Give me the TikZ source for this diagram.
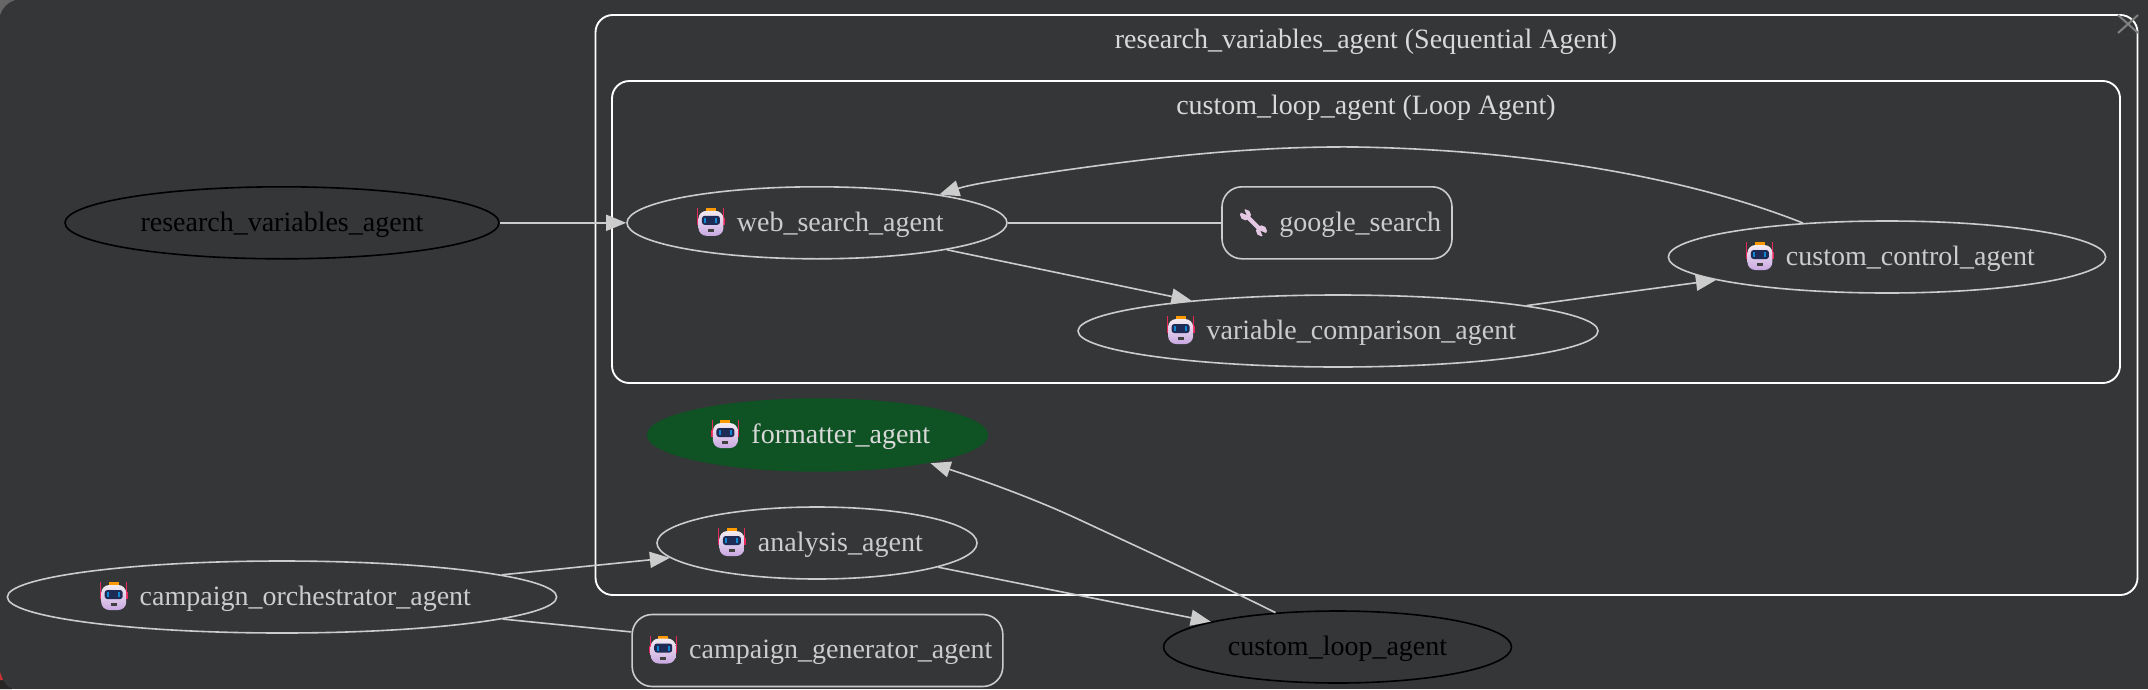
\documentclass[tikz,border=0pt]{standalone}
\usepackage{fontspec}
\setmainfont{Liberation Serif}
\usetikzlibrary{arrows.meta,shapes.geometric}
\definecolor{panelbg}{HTML}{343638}
\definecolor{edgegray}{HTML}{CCCCCC}
\definecolor{formgreen}{HTML}{0F5223}
\definecolor{robotred}{HTML}{E8285A}
\definecolor{robotlilac}{HTML}{C9A8E2}
\definecolor{robotpale}{HTML}{F2EAF0}
\definecolor{visorblue}{HTML}{1F2A55}
\newcommand{\robot}{\hspace*{5pt}\tikz[x=0.75pt,y=-0.75pt,baseline={(0,8.3)},sharp corners]{%
  \fill[robotred] (-13.5,-15) rectangle (-12.5,2);
  \fill[robotred] (12.5,-15) rectangle (13.5,2);
  \fill[robotred] (-14,-5) rectangle (-11,2);
  \fill[robotred] (11,-5) rectangle (14,2);
  \fill[orange!80!yellow] (-5,-15) rectangle (5,-11);
  \shade[top color=robotpale,bottom color=robotlilac,rounded corners=6pt] (-12.5,-12) rectangle (12.5,13);
  \fill[visorblue,rounded corners=2pt] (-9,-7) rectangle (9,2);
  \fill[cyan!70!blue] (-6.5,-5) rectangle (-4.5,0);
  \fill[cyan!70!blue] (4.5,-5) rectangle (6.5,0);
  \fill[black!75] (-3,6) rectangle (3,9);
}\hspace{9pt}}
\newcommand{\wrench}{\hspace*{5pt}\tikz[x=0.75pt,y=-0.75pt,baseline={(0,8.3)},sharp corners]{%
  \draw[violet!22!white,line width=3.2pt] (-8,-8) -- (8,8);
  \fill[violet!22!white] (-8,-8) circle (5.5);
  \fill[violet!22!white] (8,8) circle (5.5);
  \fill[panelbg] (-7,-8) -- (-14,-11) -- (-10,-15) -- cycle;
  \fill[panelbg] (7,8) -- (14,11) -- (10,15) -- cycle;
}\hspace{9pt}}
\tikzset{
  agent/.style={ellipse,draw=edgegray,line width=1.2pt,text=edgegray,inner sep=0pt,text height=12.5pt,text depth=0pt},
  plainagent/.style={ellipse,draw=black,line width=1.2pt,text=black,inner sep=0pt,text height=12.5pt,text depth=0pt},
  toolbox/.style={rectangle,draw=edgegray,line width=1.2pt,text=edgegray,rounded corners=15pt,inner sep=0pt,text height=12.5pt,text depth=0pt},
  cluster/.style={rectangle,draw=white,line width=1.4pt,rounded corners=13pt,inner sep=0pt},
  title/.style={text=white!85!black,inner sep=0pt,text height=13.5pt,text depth=0pt},
  flow/.style={color=edgegray,line width=1.2pt,-{Triangle[length=15pt,width=12pt]}},
  link/.style={color=edgegray,line width=1.2pt}
}
\begin{document}
\begin{tikzpicture}[x=0.75pt,y=-0.75pt,font=\fontsize{21}{25}\selectfont]
\useasboundingbox (0,0) rectangle (2148,689);
% panel
\fill[panelbg] (0,0) rectangle (2148,689);
\fill[black!85] (0,672) .. controls (3,682) and (7,687) .. (12,689) -- (0,689) -- cycle;
\fill[red!60!gray] (0,672) -- (3,680) -- (0,680) -- cycle;
\fill[black!60] (0,15) .. controls (2,8) and (8,2) .. (15,0) -- (0,0) -- cycle;
% clusters
\node[cluster,minimum width=1156.5pt,minimum height=435pt] (seqbox) at (1366.5,305) {};
\node[cluster,minimum width=1131pt,minimum height=226.5pt] (loopbox) at (1366,232) {};
\node[title] (seqtitle) at (1366,39) {research\_variables\_agent (Sequential Agent)};
\node[title] (looptitle) at (1366,105) {custom\_loop\_agent (Loop Agent)};
% agents
\node[plainagent,minimum width=325.5pt,minimum height=54pt] (research) at (282,222.8) {research\_variables\_agent};
\node[agent,minimum width=285pt,minimum height=54pt] (web) at (817,222.8) {\robot web\_search\_agent};
\node[toolbox,minimum width=172.5pt,minimum height=54pt] (google) at (1337,222.8) {\wrench google\_search};
\node[agent,minimum width=390pt,minimum height=54pt] (compare) at (1338,331) {\robot variable\_comparison\_agent};
\node[agent,minimum width=328pt,minimum height=54pt] (control) at (1887,257) {\robot custom\_control\_agent};
\node[agent,draw=none,fill=formgreen,text=white!85!black,minimum width=256pt,minimum height=55pt] (formatter) at (817.5,435) {\robot formatter\_agent};
\node[agent,minimum width=240pt,minimum height=54pt] (analysis) at (817,543) {\robot analysis\_agent};
\node[agent,minimum width=412pt,minimum height=54pt] (orchestrator) at (282,597) {\robot campaign\_orchestrator\_agent};
\node[toolbox,minimum width=278pt,minimum height=54pt] (generator) at (817.5,650.5) {\robot campaign\_generator\_agent};
\node[plainagent,minimum width=261pt,minimum height=54pt] (loop) at (1337.5,647) {custom\_loop\_agent};
% connectors
\coordinate (topbend) at (1356,147);
\coordinate (midbend) at (1059,171);
\coordinate (lowbend) at (1080,520);
\draw[flow] (research) -- (web);
\draw[link] (web) -- (google);
\draw[flow] (web) -- (compare);
\draw[flow] (compare) -- (control);
\draw[flow] (control.158) .. controls (1690,178) and (1530,150) .. (topbend) .. controls (1250,146) and (1150,158) .. (midbend) .. controls (1020,177) and (975,183) .. (web.13.5);
\draw[flow] (orchestrator) -- (analysis);
\draw[link] (orchestrator) -- (generator);
\draw[flow] (analysis) -- (loop);
\draw[flow] (loop.151) .. controls (1210,580) and (1140,548) .. (lowbend) .. controls (1035,499) and (985,481) .. (formatter.-14);
% close mark
\coordinate (closea) at (2118,15);
\coordinate (closeb) at (2138,33);
\coordinate (closec) at (2138,15);
\coordinate (closed) at (2118,33);
\draw[black!50!white,line width=1.5pt] (closea) -- (closeb) (closec) -- (closed);
\end{tikzpicture}
\end{document}
